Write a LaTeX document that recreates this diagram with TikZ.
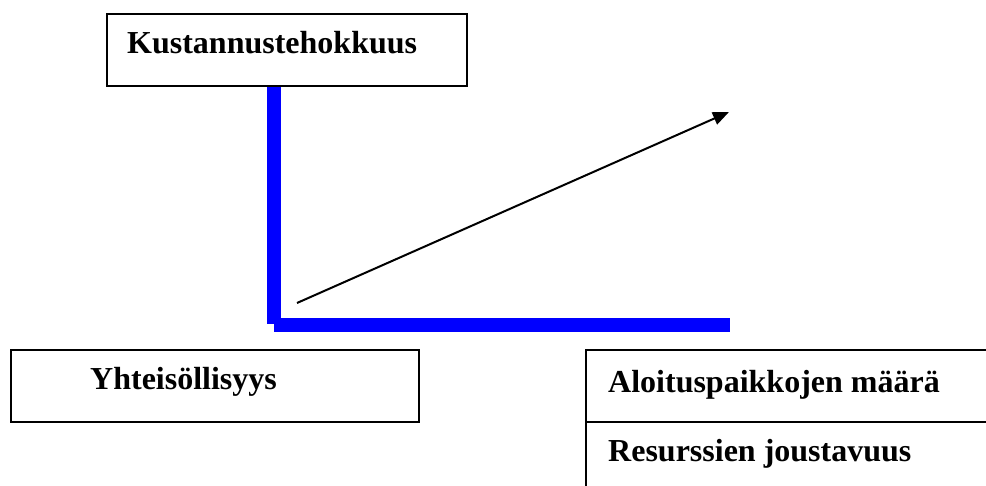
\documentclass[tikz,border=0pt]{standalone}
\usepackage{fontspec}
\setmainfont{Liberation Serif}
\usetikzlibrary{arrows.meta}
\usetikzlibrary{positioning}
\tikzset{
  box/.style={draw, line width=2pt, anchor=north west, inner sep=0pt},
  lbl/.style={anchor=base west, inner sep=0pt, font=\fontsize{32}{38}\selectfont\bfseries},
  axisline/.style={draw=blue, line width=14pt},
}

\begin{document}
\begin{tikzpicture}[x=1pt,y=-1pt]
  \useasboundingbox (0,0) rectangle (986,486);

  \node [box, minimum width=360pt, minimum height=72pt] (kust) at (106,13) {};
  \node [lbl] (kustT) at (127,54) {Kustannustehokkuus};

  \node [box, minimum width=408pt, minimum height=72pt] (yht) at (10,349) {};
  \node [lbl] (yhtT) at (90,390) {Yhteisöllisyys};

  % right boxes run off the page
  \node [box, minimum width=420pt, minimum height=72pt] (aloit) at (585,349) {};
  \node [lbl] (aloitT) at (608,393) {Aloituspaikkojen määrä};
  \node [box, minimum width=420pt, minimum height=90pt] (resu) at (585,421) {};
  \node [lbl] (resuT) at (608,461) {Resurssien joustavuus};

  \coordinate (corner) at (274,325);
  \coordinate (vend) at (274,324);
  \coordinate (hend) at (730,325);
  \draw [axisline] (kust.south -| corner) -- (vend);
  \draw [axisline] (corner) -- (hend);

  \coordinate (arrS) at (297,303);
  \coordinate (arrE) at (729,112);
  \draw [-{Triangle[length=16pt,width=13pt]}, line width=2pt] (arrS) -- (arrE);
\end{tikzpicture}
\end{document}
